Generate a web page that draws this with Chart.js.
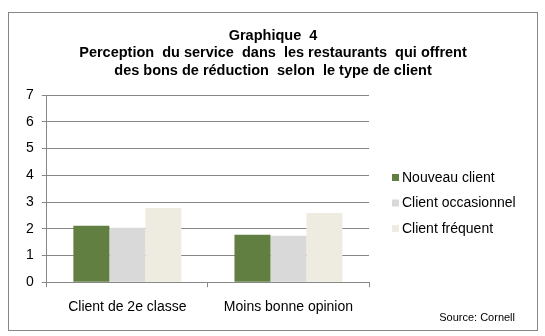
<!DOCTYPE html>
<html>
<head>
<meta charset="utf-8">
<script src="https://cdn.jsdelivr.net/npm/chart.js@4.4.0/dist/chart.umd.min.js"></script>
<style>
  body { margin: 0; background: #fff; }
  #cadre {
    position: absolute; left: 8px; top: 12px;
    width: 528px; height: 317px;
    border: 1px solid #868686;
  }
</style>
</head>
<body>
<div id="cadre"><canvas id="graphique"></canvas></div>
<script>
const categories = ['Client de 2e classe', 'Moins bonne opinion'];
const series = ['Nouveau client', 'Client occasionnel', 'Client fréquent'];
const nouveau = [2.11, 1.78];
const occasionnel = [2.04, 1.74];
const frequent = [2.78, 2.59];
const couleurs = ['#617F40', '#D9D9D9', '#EEECE1'];
const titre = ['Graphique  4', 'Perception  du service  dans  les restaurants  qui offrent', 'des bons de réduction  selon  le type de client'];
const source = 'Source: Cornell';

const police = 'Arial, "Liberation Sans", sans-serif';
const gris = '#878787';

// légende + source dessinées à la main (à droite du graphique)
const legendeMaison = {
    id: 'legendeMaison',
    afterDraw(chart) {
        const ctx = chart.ctx;
        ctx.save();
        ctx.font = '14px ' + police;
        ctx.textBaseline = 'middle';
        chart.data.datasets.forEach((ds, i) => {
            const y = 164.5 + i * 25.5;
            ctx.fillStyle = ds.backgroundColor;
            ctx.fillRect(383, y - 3.5, 7, 7);
            ctx.fillStyle = '#000';
            ctx.fillText(ds.label, 393, y + 0.5);
        });
        ctx.font = '11px ' + police;
        ctx.textAlign = 'right';
        ctx.fillText(source, 506, 305);
        ctx.restore();
    }
};

const ctx = document.getElementById('graphique').getContext('2d');
new Chart(ctx, {
    type: 'bar',
    data: {
        labels: categories,
        datasets: [
            { label: series[0], data: nouveau, backgroundColor: couleurs[0] },
            { label: series[1], data: occasionnel, backgroundColor: couleurs[1] },
            { label: series[2], data: frequent, backgroundColor: couleurs[2] }
        ]
    },
    options: {
        responsive: true,
        maintainAspectRatio: false,
        animation: false,
        layout: { padding: { bottom: 2 } },
        datasets: {
            bar: { categoryPercentage: 0.67, barPercentage: 1 }
        },
        plugins: {
            legend: { display: false },
            tooltip: { enabled: false },
            title: {
                display: true,
                text: titre,
                color: '#000',
                font: { family: police, size: 14.5, weight: 'bold', lineHeight: 1.2 },
                padding: { top: 14, bottom: 16 }
            }
        },
        scales: {
            x: {
                grid: { drawOnChartArea: false, color: gris, tickLength: 5 },
                border: { color: gris },
                ticks: { color: '#000', font: { family: police, size: 14 }, padding: 12 }
            },
            y: {
                min: 0,
                max: 7,
                ticks: { stepSize: 1, color: '#000', font: { family: police, size: 14 }, padding: 8 },
                grid: { color: gris, tickLength: 5 },
                border: { color: gris },
                afterFit: s => { s.width += 9; }
            },
            // axe vide : réserve la place de la légende à droite
            place: {
                position: 'right',
                display: true,
                grid: { display: false },
                border: { display: false },
                ticks: { display: false },
                afterFit: s => { s.width = 168; }
            }
        }
    },
    plugins: [legendeMaison]
});
</script>
</body>
</html>
